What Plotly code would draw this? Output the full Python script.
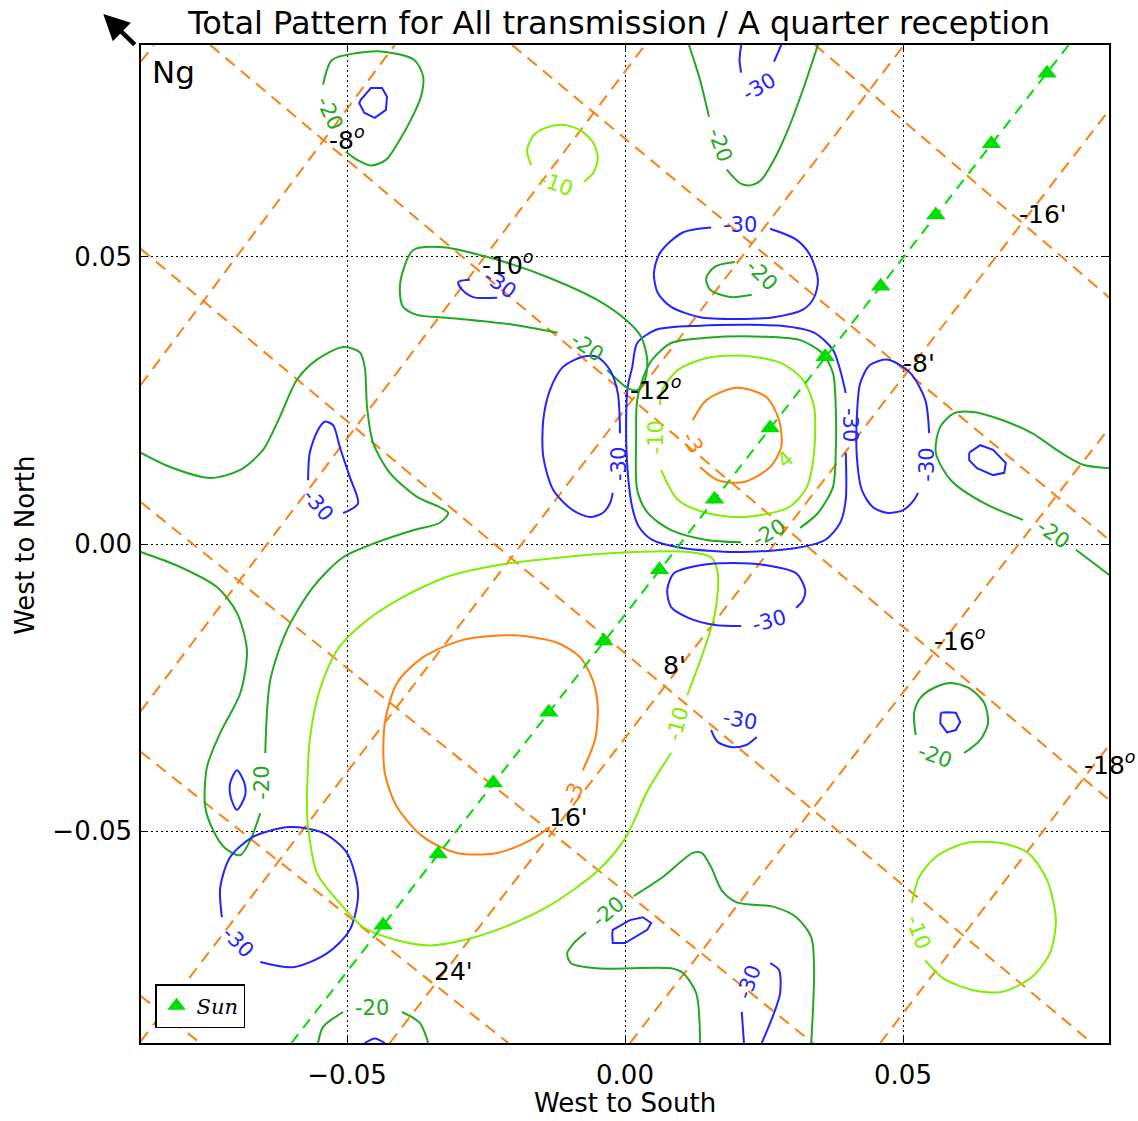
import plotly.graph_objects as go

S = 1e-3

# ---------------- orange dashed grid (two families of straight lines) ----------------
ur_x0 = [-87.1, -87.1, -87.1, -87.1, -42.3, 0.9, 45.9]
ur_y0 = [84.0, 27.7, -29.1, -86.6, -86.9, -86.9, -86.9]
ur_x1 = [-84.7, -41.4, 3.6, 50.2, 87.1, 87.1, 87.1]
ur_y1 = [86.9, 86.9, 86.9, 86.9, 75.6, 20.2, -35.0]

dr_x0 = [34.2, -20.3, -74.6, -87.1, -87.1, -87.1, -87.1]
dr_y0 = [86.9, 86.9, 86.9, 51.4, 7.3, -36.2, -78.7]
dr_x1 = [87.1, 87.1, 87.1, 84.0, 33.8, -21.0, -76.4]
dr_y1 = [42.9, 0.7, -44.6, -86.9, -86.9, -86.9, -86.9]

# ---------------- Sun track ----------------
sun_x = [-43.5, -33.6, -23.7, -13.7, -3.8, 6.2, 16.1, 26.1, 36.0, 46.0, 55.9, 65.9, 75.9]
sun_y = [-66.4, -54.0, -41.6, -29.3, -16.9, -4.5, 7.8, 20.2, 32.6, 44.9, 57.3, 69.7, 82.0]
sun_line_x = [-60.0, 79.8]
sun_line_y = [-86.9, 86.9]

# ---------------- contour pieces (level, x, y) ----------------
c01_x = [-50.2, -48.2, -45.7, -43.0, -40.5, -38.5, -36.7, -36.3, -37.9, -43.0, -48.2, -52.7, -54.3]
c01_y = [68.3, 66.9, 65.9, 66.9, 70.4, 73.9, 77.9, 81.4, 84.3, 85.7, 85.5, 84.3, 80.0]
c02_x = [-47.5, -45.7, -43.7, -42.8, -43.0, -45.0, -46.9, -47.8, -47.5]
c02_y = [77.4, 79.4, 79.4, 77.9, 75.6, 74.2, 75.1, 76.8, 77.4]
c03_x = [-16.9, -17.6, -16.5, -14.2, -11.3, -8.1, -5.8, -4.9, -5.6, -7.4]
c03_y = [66.0, 68.6, 71.1, 72.5, 73.0, 72.1, 70.0, 67.4, 64.8, 63.1]
c04a_x = [11.5, 13.5, 15.1]
c04a_y = [86.9, 80.8, 74.4]
c04b_x = [18.3, 20.9, 22.8, 24.5, 26.8, 29.5, 32.0, 34.7]
c04b_y = [65.2, 62.7, 62.5, 63.4, 66.9, 72.6, 79.1, 86.9]
c05a_x = [20.9, 20.6, 20.9]
c05a_y = [86.9, 84.3, 82.1]
c05b_x = [26.8, 28.1]
c05b_y = [84.0, 86.9]
c06_x = [26.1, 30.8, 33.3, 34.7, 34.0, 32.0, 26.8, 20.1, 13.5, 8.3, 5.9, 5.2, 6.3, 10.3, 15.5]
c06_y = [54.9, 53.0, 50.3, 46.0, 42.9, 40.8, 39.5, 39.2, 39.5, 41.3, 43.7, 47.2, 50.7, 54.2, 55.1]
c07_x = [19.8, 16.2, 14.6, 15.3, 18.9, 22.8]
c07_y = [49.1, 48.3, 46.3, 44.3, 43.0, 43.4]
c08_x = [39.7, 39.7, 38.7, 36.0, 30.8, 20.1, 10.3, 4.9, 2.5, 1.3, 0.5, 0.2, 0.5, 1.3, 2.2, 5.6,
         13.5, 28.1, 34.0, 37.4, 38.7, 39.7]
c08_y = [15.9, 7.7, 3.7, 0.7, -0.7, -1.4, -0.7, 0.7, 3.0, 6.4, 12.4, 20.4, 27.4, 30.8, 35.0, 37.3,
         38.0, 38.0, 36.8, 33.8, 30.3, 26.3]
c09_x = [20.9, 14.7, 8.3, 4.1, 2.2, 2.0, 2.2, 3.6, 4.9, 8.3, 14.7, 24.8, 31.5, 35.4, 37.4, 37.9,
         37.9, 37.4, 34.7, 31.5]
c09_y = [0.3, 0.7, 2.4, 5.4, 9.4, 18.1, 25.1, 29.8, 32.1, 35.0, 35.9, 36.1, 35.5, 33.3, 29.8, 23.9,
         15.9, 9.9, 5.4, 2.8]
c10_x = [-3.2, 0.4, 2.2, 3.6, 4.0, 2.9, 0.2, -5.0, -14.0, -23.0, -32.7, -38.1, -39.9, -40.5, -39.9,
         -37.4, -32.0, -20.1, -12.1]
c10_y = [30.3, 27.2, 26.8, 28.6, 32.1, 36.1, 39.0, 42.5, 46.5, 49.5, 51.7, 51.2, 47.7, 44.3, 41.3,
         39.9, 39.4, 38.2, 36.8]
c11_x = [6.5, 9.5, 14.7, 21.4, 29.5, 32.7, 34.0, 34.0, 32.0, 28.1, 21.4, 14.7, 9.5, 6.7, 6.3]
c11_y = [12.9, 7.7, 5.4, 4.7, 6.4, 9.9, 15.9, 23.9, 28.6, 31.5, 32.8, 32.4, 30.3, 26.8, 24.2]
c12_x = [13.5, 16.7, 21.4, 26.1, 28.1, 27.7, 25.4, 20.1, 14.7, 12.2]
c12_y = [13.4, 11.1, 10.8, 13.4, 16.9, 21.6, 25.6, 27.2, 25.1, 21.6]
c13_x = [-0.9, -1.3, -2.7, -5.0, -7.6, -11.2, -13.5, -14.7, -14.7, -12.9, -9.4, -6.3, -4.0, -2.7, -2.2]
c13_y = [19.3, 26.3, 30.3, 32.6, 32.6, 30.8, 26.8, 21.6, 15.2, 9.4, 5.9, 4.7, 5.4, 7.1, 8.9]
c14_x = [54.7, 54.0, 51.3, 47.3, 44.1, 42.3, 41.7, 41.7, 42.6, 44.6, 47.3, 50.0, 52.0, 52.7]
c14_y = [19.3, 25.1, 29.8, 32.1, 31.2, 28.0, 22.1, 15.2, 9.4, 6.4, 5.4, 5.9, 7.7, 8.9]
c15a_x = [87.1, 82.4, 78.4, 73.2, 67.8, 62.6, 59.2, 56.7, 55.9, 58.6, 64.6, 71.6]
c15a_y = [13.2, 13.8, 15.9, 19.3, 21.6, 23.0, 22.8, 20.4, 15.9, 11.1, 7.1, 4.2]
c15b_x = [81.1, 87.1]
c15b_y = [-1.0, -5.4]
c16_x = [61.9, 63.9, 66.2, 68.5, 68.2, 66.2, 63.3, 61.9, 61.9]
c16_y = [15.9, 17.2, 16.4, 14.1, 12.4, 12.0, 13.2, 14.6, 15.9]
c17_x = [-27.9, -30.0, -29.3, -27.3, -23.0]
c17_y = [46.0, 45.6, 44.3, 43.0, 42.9]
c18a_x = [-87.1, -81.8, -74.6, -69.2, -65.1, -62.1, -59.0, -55.4, -50.7, -47.7, -46.8, -46.4, -45.3,
          -42.3, -37.4, -33.3, -31.8, -33.3, -38.1, -44.6, -50.7, -56.1, -60.8, -63.8, -64.7]
c18a_y = [15.9, 13.4, 11.5, 12.9, 16.4, 22.1, 28.6, 32.1, 34.3, 33.4, 30.8, 23.9, 17.6,
          12.4, 8.2, 6.4, 5.4, 3.7, 2.4, 0.3, -2.3, -7.5, -15.0, -23.7, -36.4]
c18b_x = [-65.6, -67.4, -69.2, -71.9, -74.1, -75.5, -75.2, -72.8, -69.2, -68.0, -69.8, -73.4, -80.0, -87.1]
c18b_y = [-46.9, -51.6, -54.2, -53.0, -49.8, -45.8, -38.9, -32.9, -26.0, -18.5, -12.0, -7.5, -4.0, -1.4]
c19_x = [-57.0, -56.7, -55.2, -54.0, -52.5, -51.3, -49.5, -48.0, -49.5, -50.7]
c19_y = [11.1, 15.9, 19.9, 21.3, 20.7, 16.9, 11.7, 7.1, 5.9, 5.4]
c20_x = [-69.8, -68.5, -68.3, -69.8, -70.9, -71.0, -69.8]
c20_y = [-39.4, -41.5, -43.7, -46.3, -44.1, -41.6, -39.4]
c21_x = [-65.6, -59.7, -53.6, -49.5, -48.0, -50.0, -54.3, -60.3, -66.9, -71.0, -72.8, -72.5]
c21_y = [-72.8, -73.7, -71.3, -67.2, -60.8, -53.8, -50.3, -49.3, -51.0, -54.5, -59.8, -65.0]
c22_x = [8.3, 4.1, 0.2, -5.0, -14.0, -23.0, -29.1, -35.1, -41.0, -47.1, -51.8, -55.4, -57.0, -57.2,
         -56.7, -54.9, -51.8, -47.1, -41.0, -32.0, -23.0, -11.2, 1.6, 11.5, 15.5, 16.7, 16.2, 14.2, 11.2]
c22_y = [-36.4, -42.9, -51.0, -57.0, -63.2, -67.2, -69.0, -69.9, -69.0, -66.7, -62.0, -57.3, -49.3, -45.8,
         -34.1, -25.4, -18.5, -13.8, -9.8, -5.7, -3.7, -2.3, -1.4, -1.4, -2.3, -5.1, -12.0, -18.5, -26.3]
c23_x = [-7.6, -5.4, -4.9, -5.8, -8.1, -12.2, -20.1, -29.1, -36.3, -41.0, -43.2, -43.2, -41.0, -36.3,
         -30.2, -23.0, -17.1, -13.5]
c23_y = [-39.4, -34.1, -28.4, -23.7, -19.7, -17.2, -15.9, -16.7, -19.7, -24.2, -31.2, -39.9, -45.8, -51.0,
         -53.8, -53.8, -51.6, -49.3]
c24a_x = [-55.2, -54.3, -50.7]
c24a_y = [-86.9, -84.1, -81.5]
c24b_x = [-40.1, -36.9, -35.4]
c24b_y = [-81.5, -83.4, -86.9]
c25_x = [-46.8, -45.0, -43.2]
c25_y = [-86.9, -86.1, -86.9]
c26a_x = [13.5, 12.8, 10.4, 8.3, -5.0, -9.7, -10.4, -9.0, -7.0]
c26a_y = [-86.9, -78.2, -74.7, -73.9, -73.9, -73.0, -71.3, -69.3, -67.6]
c26b_x = [1.6, 6.8, 12.2, 13.8, 15.5, 17.4, 20.1, 26.8, 30.8, 33.5, 34.0, 33.5]
c26b_y = [-61.3, -58.0, -53.8, -53.8, -56.3, -60.3, -62.4, -63.2, -65.0, -68.5, -74.2, -86.9]
c27_x = [-2.3, -2.2, 0.0, 4.0, 4.7, 3.2, 0.9, -2.2, -2.3]
c27_y = [-67.8, -69.5, -69.5, -67.2, -66.0, -65.0, -65.5, -67.2, -67.8]
c28a_x = [21.0, 21.4]
c28a_y = [-81.5, -86.9]
c28b_x = [26.1, 27.7, 27.9, 26.8, 24.6]
c28b_y = [-73.0, -74.2, -78.2, -81.7, -86.9]
c29_x = [54.0, 57.2, 62.6, 67.8, 73.2, 76.4, 77.5, 75.9, 72.5, 67.8, 61.2, 55.9, 52.9, 51.6]
c29_y = [-72.5, -75.6, -77.7, -78.0, -75.4, -71.3, -65.5, -58.5, -53.8, -52.1, -52.1, -54.5, -58.0, -62.5]
c30_x = [61.0, 63.9, 65.3, 64.6, 61.9, 58.6, 55.9, 53.2, 52.0, 52.3]
c30_y = [-36.4, -34.1, -31.2, -27.7, -25.1, -24.2, -24.9, -26.7, -29.4, -33.3]
c31_x = [56.8, 57.9, 59.5, 60.3, 59.5, 57.9, 56.7, 56.8]
c31_y = [-29.4, -29.3, -29.4, -31.0, -32.4, -32.8, -31.2, -29.4]
c32_x = [15.5, 16.7, 19.4, 21.8, 23.7]
c32_y = [-32.4, -34.5, -35.4, -35.0, -33.6]
c33_x = [20.9, 16.2, 11.5, 8.3, 7.6, 8.8, 13.5, 19.4, 25.4, 30.8, 32.4, 32.0, 30.8]
c33_y = [-14.3, -14.1, -12.9, -11.0, -8.0, -5.1, -3.7, -3.3, -3.7, -5.1, -8.0, -9.8, -11.1]

# level, x, y, smooth
CONTOURS = [
    (-20, c01_x, c01_y, True), (-30, c02_x, c02_y, False), (-10, c03_x, c03_y, True),
    (-20, c04a_x, c04a_y, True), (-20, c04b_x, c04b_y, True),
    (-30, c05a_x, c05a_y, True), (-30, c05b_x, c05b_y, True),
    (-30, c06_x, c06_y, True), (-20, c07_x, c07_y, True), (-30, c08_x, c08_y, True),
    (-20, c09_x, c09_y, True), (-20, c10_x, c10_y, True), (-10, c11_x, c11_y, True),
    (-3, c12_x, c12_y, True), (-30, c13_x, c13_y, True), (-30, c14_x, c14_y, True),
    (-20, c15a_x, c15a_y, True), (-20, c15b_x, c15b_y, True), (-30, c16_x, c16_y, False),
    (-30, c17_x, c17_y, True), (-20, c18a_x, c18a_y, True), (-20, c18b_x, c18b_y, True),
    (-30, c19_x, c19_y, True), (-30, c20_x, c20_y, True), (-30, c21_x, c21_y, True),
    (-10, c22_x, c22_y, True), (-3, c23_x, c23_y, True),
    (-20, c24a_x, c24a_y, True), (-20, c24b_x, c24b_y, True), (-30, c25_x, c25_y, True),
    (-20, c26a_x, c26a_y, True), (-20, c26b_x, c26b_y, True), (-30, c27_x, c27_y, False),
    (-30, c28a_x, c28a_y, True), (-30, c28b_x, c28b_y, True), (-10, c29_x, c29_y, True),
    (-20, c30_x, c30_y, True), (-30, c31_x, c31_y, False), (-30, c32_x, c32_y, True),
    (-30, c33_x, c33_y, True),
]

# contour labels: text, level, x, y, rotation
label_text = ["-20", "-10", "-20", "-30", "-30", "-20", "-30", "-20", "-30", "-10", "-3", "4", "-30",
              "-30", "-20", "-20", "-30", "-30", "-10", "-30", "-20", "-3", "-20", "-30", "-20",
              "-30", "-10", "-20"]
label_level = [-20, -10, -20, -30, -30, -20, -30, -20, -30, -10, -3, -10, -30,
               -30, -20, -20, -30, -30, -10, -30, -20, -3, -20, -30, -20,
               -30, -10, -20]
label_x = [-53.1, -12.4, 17.1, 24.1, 20.7, 24.6, -22.5, -6.8, -1.1, 5.6, 12.2, 28.8, 40.5,
           54.3, 77.0, 25.9, -55.2, 25.9, 9.5, 20.7, -65.3, -9.2, 55.8, -69.6, -3.1,
           22.3, 52.7, -45.5]
label_y = [75.1, 62.7, 69.5, 79.6, 55.6, 46.9, 45.3, 34.3, 13.9, 18.6, 17.6, 14.6, 20.7,
           13.8, 1.7, 1.9, 6.8, -13.4, -31.4, -30.7, -41.6, -43.4, -36.9, -69.3, -64.1,
           -76.3, -67.6, -80.8]
label_angle = [65, 20, 70, -30, 0, 45, 35, 35, -90, -90, 60, -40, 90,
               -90, 35, -30, 50, -15, -75, 10, -90, -65, 20, 45, -40,
               -70, 70, 0]

# grid-line annotations (declination degrees and minutes)
deg_text = ["-8", "-10", "-12", "-16", "-18"]
deg_x = [-53.6, -26.1, 0.5, 55.2, 82.2]
deg_y = [70.6, 48.8, 27.0, -16.7, -38.3]
min_text = ["-16'", "-8'", "8'", "16'", "24'"]
min_x = [70.5, 49.6, 6.5, -14.0, -34.7]
min_y = [57.3, 31.4, -21.1, -47.7, -74.4]

COL = {-30: '#2424ff', -20: '#22a822', -10: '#80ee00', -3: '#ff7f0e'}
ORANGE = '#ff7f0e'
SUN = '#00dd00'

fig = go.Figure()


def segments(x0, y0, x1, y1):
    X, Y = [], []
    for a, b, c, d in zip(x0, y0, x1, y1):
        X += [a * S, c * S, None]
        Y += [b * S, d * S, None]
    return X, Y


for fam in [(ur_x0, ur_y0, ur_x1, ur_y1), (dr_x0, dr_y0, dr_x1, dr_y1)]:
    X, Y = segments(*fam)
    fig.add_trace(go.Scatter(x=X, y=Y, mode='lines', showlegend=False, hoverinfo='skip',
                             line=dict(color=ORANGE, width=2, dash='12px,8px')))

for level, xs, ys, smooth in CONTOURS:
    line = dict(color=COL[level], width=2)
    if smooth:
        line.update(shape='spline', smoothing=0.8)
    fig.add_trace(go.Scatter(x=[v * S for v in xs], y=[v * S for v in ys], mode='lines',
                             line=line, showlegend=False, hoverinfo='skip'))

fig.add_trace(go.Scatter(x=[v * S for v in sun_line_x], y=[v * S for v in sun_line_y], mode='lines',
                         line=dict(color=SUN, width=2, dash='11px,8px'), showlegend=False,
                         hoverinfo='skip'))
fig.add_trace(go.Scatter(x=[v * S for v in sun_x], y=[v * S for v in sun_y], mode='markers',
                         marker=dict(symbol='triangle-up', size=17, color=SUN),
                         name='<i>Sun</i>', hoverinfo='skip'))

ann = []
for t, lv, x, y, a in zip(label_text, label_level, label_x, label_y, label_angle):
    ann.append(dict(x=x * S, y=y * S, xref='x', yref='y', text=t, showarrow=False, textangle=a,
                    font=dict(size=21, color=COL[lv], family='DejaVu Sans')))
for t, x, y in zip(deg_text, deg_x, deg_y):
    ann.append(dict(x=x * S, y=y * S, xref='x', yref='y', xanchor='left', yanchor='middle',
                    text=t + "<sup><i>o</i></sup>", showarrow=False,
                    font=dict(size=25, color='black', family='DejaVu Sans')))
for t, x, y in zip(min_text, min_x, min_y):
    ann.append(dict(x=x * S, y=y * S, xref='x', yref='y', xanchor='left', yanchor='middle',
                    text=t, showarrow=False, font=dict(size=25, color='black', family='DejaVu Sans')))

ann.append(dict(x=0.009, y=0.973, xref='paper', yref='paper', xanchor='left', yanchor='middle',
                text='Ng', showarrow=False, font=dict(size=31, color='black', family='DejaVu Sans')))
ann.append(dict(x=0.5, y=-0.060, xref='paper', yref='paper', xanchor='center', yanchor='middle',
                text='West to South', showarrow=False,
                font=dict(size=26, color='black', family='DejaVu Sans')))
ann.append(dict(x=-0.12, y=0.499, xref='paper', yref='paper', xanchor='center', yanchor='middle',
                text='West to North', textangle=-90, showarrow=False,
                font=dict(size=26, color='black', family='DejaVu Sans')))
ann.append(dict(x=-0.039, y=1.031, xref='paper', yref='paper', ax=33, ay=32, text='',
                showarrow=True, arrowhead=2, arrowsize=1.15, arrowwidth=4.5, arrowcolor='black'))

axis_common = dict(showgrid=True, gridcolor='black', griddash='2px,3px', gridwidth=1,
                   zeroline=False, showline=True, linecolor='black', linewidth=1.5,
                   mirror='ticks', ticks='inside', ticklen=7, tickcolor='black', tickwidth=1,
                   tickvals=[-0.05, 0.0, 0.05], ticktext=['\u22120.05', '0.00', '0.05'],
                   tickfont=dict(size=26, color='black', family='DejaVu Sans'))

fig.update_layout(
    width=1138, height=1121,
    margin=dict(l=141, r=29, t=45, b=78),
    paper_bgcolor='white', plot_bgcolor='white',
    font=dict(family='DejaVu Sans', color='black'),
    title=dict(text='Total Pattern for All transmission / A quarter reception',
               x=0.544, xanchor='center', xref='container', y=0.980, yanchor='middle',
               font=dict(size=32, color='black', family='DejaVu Sans')),
    xaxis=dict(range=[-0.08705, 0.08705], ticklabelstandoff=8, **axis_common),
    yaxis=dict(range=[-0.0869, 0.0869], ticklabelstandoff=2, **axis_common),
    showlegend=True,
    legend=dict(x=0.0145, y=0.015, xanchor='left', yanchor='bottom', bgcolor='white',
                bordercolor='black', borderwidth=1.5, itemwidth=30,
                font=dict(size=21, family='DejaVu Serif', color='black')),
    annotations=ann,
    hovermode=False,
)

fig.write_html('out.html', config={'displayModeBar': False})
